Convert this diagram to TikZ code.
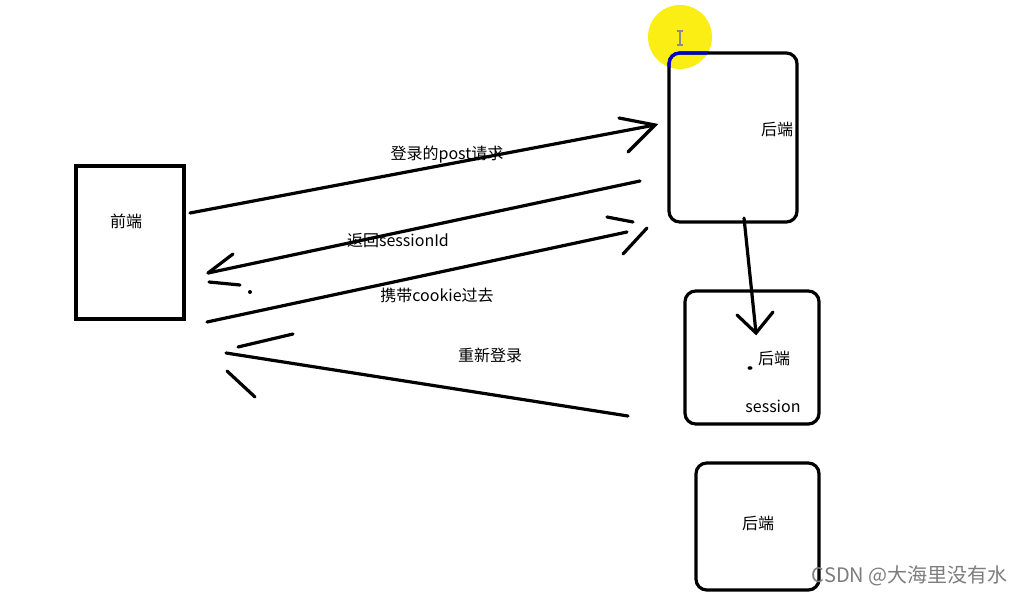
\documentclass[tikz,border=0pt]{standalone}
\usepackage{fontspec}
\newfontfamily\cjk{Noto Sans CJK SC}
\definecolor{hl}{RGB}{250,238,20}
\definecolor{wm}{RGB}{125,125,125}
\begin{document}
\begin{tikzpicture}[x=0.75pt,y=-0.75pt,
  stroke/.style={line width=2.4pt,line cap=round},
  frontbox/.style={draw,line width=2.4pt,inner sep=0pt},
  backbox/.style={draw,line width=2.4pt,rounded corners=8pt,inner sep=0pt},
  lbl/.style={font=\cjk\fontsize{12}{14}\selectfont,inner sep=0pt},
  wmark/.style={font=\cjk\fontsize{15}{17}\selectfont,text=wm,inner sep=0pt,anchor=east}]
\useasboundingbox (0,0) rectangle (1023,595);
\fill[white] (0,0) rectangle (1023,595);
% cursor highlight
\fill[hl] (680,37) circle (32);
% boxes
\node[frontbox,minimum width=81pt,minimum height=114.75pt] (front) at (130,242.5) {};
\node[backbox,minimum width=96pt,minimum height=126.75pt] (back1) at (733,137.5) {};
\node[backbox,minimum width=100.5pt,minimum height=99.75pt] (back2) at (752,357.5) {};
\node[backbox,minimum width=92.25pt,minimum height=95.25pt] (back3) at (757.5,526.5) {};
\begin{scope}
  \clip (680,37) circle (32);
  \draw[blue!80!black,line width=2.4pt,rounded corners=8pt] (669,222) rectangle (797,53);
\end{scope}
% I-beam cursor
\draw[black!45,line width=0.8pt] (680,31) -- (680,45) (677,31) -- (683,31) (677,45) -- (683,45);
% texts
\node[lbl] (tfront) at (126,221) {前端};
\node[lbl] (tback1) at (777,129) {后端};
\node[lbl] (tback2) at (774,358) {后端};
\node[lbl] (tsess) at (773,406) {session};
\node[lbl] (tback3) at (758,523) {后端};
\node[lbl] (l1) at (447,155) {登录的post请求};
\node[lbl] (l2) at (398,241) {返回sessionId};
\node[lbl] (l3) at (437,295) {携带cookie过去};
\node[lbl] (l4) at (490,355) {重新登录};
\node[wmark] (wmk) at (1008,576) {CSDN @大海里没有水};
% arrow 1: login post
\coordinate (a1s) at (190,213);
\coordinate (a1t) at (655,125);
\coordinate (a1h1) at (619,118);
\coordinate (a1h2) at (628,152);
\draw[stroke] (a1s) -- (a1t);
\draw[stroke] (a1h1) -- (a1t) -- (a1h2);
% arrow 2: return sessionId
\coordinate (a2s) at (640,181);
\coordinate (a2t) at (208,273);
\coordinate (a2h1) at (233,254);
\coordinate (a2h2) at (209,282);
\coordinate (a2h3) at (240,285);
\draw[stroke] (a2s) -- (a2t);
\draw[stroke] (a2h1) -- (a2t);
\draw[stroke] (a2h2) -- (a2h3);
\fill (250,292) circle (2);
% arrow 3: carry cookie
\coordinate (a3s) at (207,322);
\coordinate (a3t) at (627,232);
\coordinate (a3h1) at (607,217);
\coordinate (a3h2) at (633,222);
\coordinate (a3h3) at (647,228);
\coordinate (a3h4) at (623,254);
\draw[stroke] (a3s) -- (a3t);
\draw[stroke] (a3h1) -- (a3h2);
\draw[stroke] (a3h3) -- (a3h4);
% arrow 4: re-login
\coordinate (a4s) at (628,416);
\coordinate (a4t) at (226,353);
\coordinate (a4h1) at (238,347);
\coordinate (a4h2) at (293,334);
\coordinate (a4h3) at (227,371);
\coordinate (a4h4) at (255,397);
\draw[stroke] (a4s) -- (a4t);
\draw[stroke] (a4h1) -- (a4h2);
\draw[stroke] (a4h3) -- (a4h4);
% arrow 5: backend to session backend
\coordinate (a5s) at (744,218);
\coordinate (a5t) at (756,333);
\coordinate (a5h1) at (737,315);
\coordinate (a5h2) at (773,312);
\draw[stroke] (a5s) -- (a5t);
\draw[stroke] (a5h1) -- (a5t) -- (a5h2);
\fill (750,368) ellipse (2.5 and 1.8);
\end{tikzpicture}
\end{document}
